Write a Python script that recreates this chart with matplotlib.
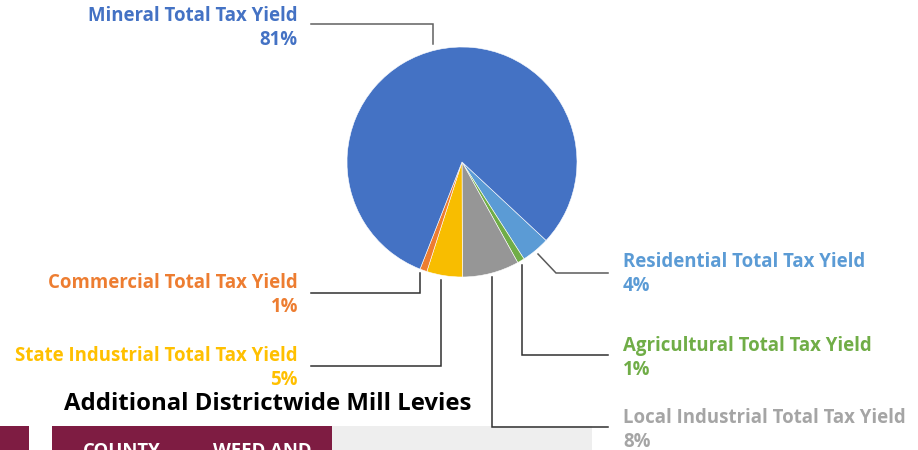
import numpy as np
import matplotlib.pyplot as plt
from matplotlib.patches import Rectangle

# data (clockwise from the Residential slice)
labels = ["Residential Total Tax Yield", "Agricultural Total Tax Yield",
          "Local Industrial Total Tax Yield", "State Industrial Total Tax Yield",
          "Commercial Total Tax Yield", "Mineral Total Tax Yield"]
shares = [4, 1, 8, 5, 1, 81]
slice_colors = ["#5B9BD5", "#70AD47", "#969696", "#F8BD00", "#ED7D31", "#4472C4"]
text_colors = ["#5B9BD5", "#70AD47", "#A5A5A5", "#FFC000", "#ED7D31", "#4472C4"]

title = "Additional Districtwide Mill Levies"
header_cells = ["COUNTY", "WEED AND"]

W, H = 918, 450
fig = plt.figure(figsize=(W / 100, H / 100), dpi=100)
FONT = "Open Sans"

# pie axes placed in pixels: centre (462,162), radius 115
cx, cy, r = 462, 162, 115
ax = fig.add_axes([(cx - r) / W, (H - cy - r) / H, 2 * r / W, 2 * r / H])
ax.pie(shares, colors=slice_colors, startangle=-43, counterclock=False,
       radius=1, wedgeprops=dict(edgecolor="white", linewidth=0.4))
ax.set_xlim(-1, 1)
ax.set_ylim(-1, 1)
ax.set_aspect("auto")
ax.axis("off")

# overlay in pixel coords for table header background
ov = fig.add_axes([0, 0, 1, 1], zorder=-1)
ov.set_xlim(0, W)
ov.set_ylim(H, 0)
ov.axis("off")

# label layout: (text x, ha, baseline line1, leader path, leader colour)
layout = [
    (623, "left", 267, [(538, 254), (556, 273), (608, 273)], "#5a5a5a"),
    (623, "left", 351, [(522, 265), (522, 355), (608, 355)], "#303030"),
    (623, "left", 423, [(492, 277), (492, 427), (608, 427)], "#303030"),
    (298, "right", 361, [(441, 280), (441, 366), (311, 366)], "#303030"),
    (298, "right", 288, [(420, 273), (420, 293), (311, 293)], "#303030"),
    (298, "right", 21, [(433, 44), (433, 24), (311, 24)], "#606060"),
]
ov2 = fig.add_axes([0, 0, 1, 1], zorder=5)
ov2.set_xlim(0, W)
ov2.set_ylim(H, 0)
ov2.axis("off")
for lab, val, col, (tx, ha, by, path, lc) in zip(labels, shares, text_colors, layout):
    ov2.text(tx, by, lab, ha=ha, va="baseline", color=col,
             fontsize=13.4, fontweight="bold", family=FONT)
    ov2.text(tx, by + 24, f"{val}%", ha=ha, va="baseline", color=col,
             fontsize=13.4, fontweight="bold", family=FONT)
    xs, ys = zip(*path)
    ov2.plot(xs, ys, color=lc, lw=1.1, solid_joinstyle="miter")

ov2.text(268, 410, title, ha="center", va="baseline", color="black",
         fontsize=17.2, fontweight="bold", family=FONT)

maroon = "#7E1C42"
ov.add_patch(Rectangle((0, 426), 29, 30, color=maroon, lw=0))
ov.add_patch(Rectangle((52, 426), 280, 30, color=maroon, lw=0))
ov.add_patch(Rectangle((332, 426), 260, 30, color="#EEEEEE", lw=0))
for txt, x in zip(header_cells, [83, 213]):
    ov2.text(x, 456, txt, ha="left", va="baseline", color="white",
             fontsize=13.3, fontweight="bold", family=FONT, clip_on=False)

fig.savefig("out.png", dpi=100)
